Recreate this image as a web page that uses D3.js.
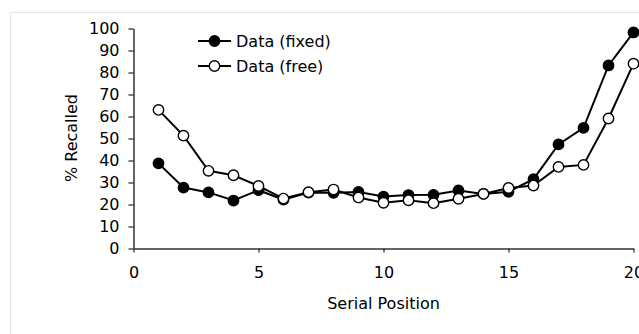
<!DOCTYPE html>
<html><head><meta charset="utf-8">
<script src="https://cdn.jsdelivr.net/npm/d3@7"></script>
<style>body{margin:0;background:#fff;} svg{display:block;} text{font-family:"DejaVu Sans",Verdana,sans-serif;}</style>
</head><body>
<svg id="c" width="639" height="334"></svg>
<script>
const positions = [1,2,3,4,5,6,7,8,9,10,11,12,13,14,15,16,17,18,19,20];
const fixedVals = [38.7,27.7,25.5,21.8,26.5,22.2,25.4,25.3,25.7,23.6,24.3,24.4,26.4,24.8,25.8,31.5,47.3,54.8,83.2,98.2];
const freeVals  = [63.0,51.3,35.3,33.3,28.4,22.7,25.6,26.8,23.2,20.8,21.9,20.6,22.6,24.8,27.5,28.6,37.1,38.0,59.1,84.0];
const xTicks = [0,5,10,15,20];
const yTicks = [0,10,20,30,40,50,60,70,80,90,100];
const seriesNames = ["Data (fixed)","Data (free)"];

const svg = d3.select("#c");
const x = d3.scaleLinear().domain([0,20]).range([133.5,633.5]);
const y = d3.scaleLinear().domain([0,100]).range([248.5,28.5]);

svg.append("rect").attr("x",10.5).attr("y",12.5).attr("width",700).attr("height",400)
  .attr("fill","none").attr("stroke","#e6e6e6").attr("stroke-width",1);

const fs = "16px";
const xAxis = svg.append("g").attr("transform","translate(0,248.5)")
  .call(d3.axisBottom(x).tickValues(xTicks).tickSize(4).tickPadding(14).tickSizeOuter(0));
const yAxis = svg.append("g").attr("transform","translate(133.5,0)")
  .call(d3.axisLeft(y).tickValues(yTicks).tickSize(5).tickPadding(9).tickSizeOuter(0));
[xAxis,yAxis].forEach(a=>{
  a.select(".domain").attr("stroke","#333").attr("stroke-width",1.5);
  a.selectAll(".tick line").attr("stroke","#333").attr("stroke-width",1.3);
  a.selectAll(".tick text").attr("fill","#000").style("font-size",fs).style("font-family","DejaVu Sans");
});

svg.append("text").attr("x",383.5).attr("y",308.5).attr("text-anchor","middle")
  .style("font-size",fs).text("Serial Position");
svg.append("text").attr("transform","translate(76.5,138) rotate(-90)").attr("text-anchor","middle")
  .style("font-size",fs).text("% Recalled");

const line = d3.line().x((d,i)=>x(positions[i])).y(d=>y(d));
const series = [{vals:fixedVals, fill:"#000"},{vals:freeVals, fill:"#fff"}];
series.forEach(s=>{
  svg.append("path").datum(s.vals).attr("d",line).attr("fill","none").attr("stroke","#000").attr("stroke-width",2);
  svg.selectAll(null).data(s.vals).enter().append("circle")
    .attr("cx",(d,i)=>x(positions[i])).attr("cy",d=>y(d)).attr("r",5.2)
    .attr("fill",s.fill).attr("stroke","#000").attr("stroke-width",1.4);
});

// legend
const ly = [41,66];
series.forEach((s,i)=>{
  const g = svg.append("g");
  g.append("line").attr("x1",198).attr("x2",231).attr("y1",ly[i]).attr("y2",ly[i]).attr("stroke","#000").attr("stroke-width",2);
  g.append("circle").attr("cx",214.5).attr("cy",ly[i]).attr("r",5.2).attr("fill",s.fill).attr("stroke","#000").attr("stroke-width",1.4);
  g.append("text").attr("x",236).attr("y",ly[i]+5.5).style("font-size",fs).text(seriesNames[i]);
});
</script>
</body></html>
